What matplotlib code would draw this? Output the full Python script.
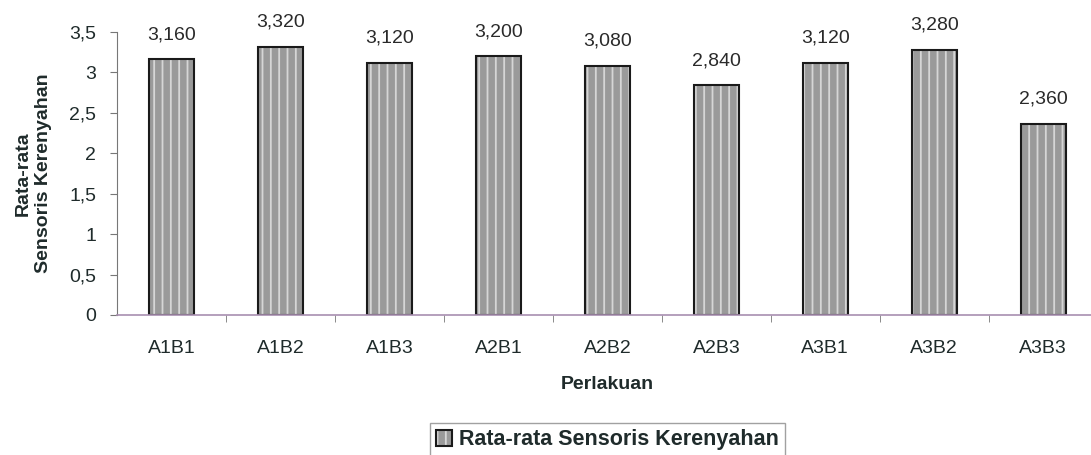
import matplotlib.pyplot as plt

plt.rcParams["font.family"] = "Liberation Sans"
plt.rcParams["hatch.linewidth"] = 1.3

# === Data ===
perlakuan = ["A1B1", "A1B2", "A1B3", "A2B1", "A2B2", "A2B3", "A3B1", "A3B2", "A3B3"]
kerenyahan = [3.160, 3.320, 3.120, 3.200, 3.080, 2.840, 3.120, 3.280, 2.360]
yticks = [0, 0.5, 1, 1.5, 2, 2.5, 3, 3.5]

TXT = "#1f2b2b"

fig = plt.figure(figsize=(10.91, 4.55), dpi=100)
ax = fig.add_axes([0.1072, 0.3077, 0.899, 0.622])

# textured fill (light streaks), then dark outline on top
fill = ax.bar(perlakuan, kerenyahan, width=0.41, color="#9a9a9a",
              edgecolor="#d6d6d6", linewidth=0, hatch="||")
outline = ax.bar(perlakuan, kerenyahan, width=0.41, fill=False,
                 edgecolor="#1a1a1a", linewidth=1.5)

for b, v in zip(outline, kerenyahan):
    ax.text(b.get_x() + b.get_width() / 2, v + 0.2, f"{v:.3f}".replace(".", ","),
            ha="center", va="bottom", fontsize=14, color="#2a2a2a")

ax.set_ylim(0, 3.5)
ax.set_xlim(-0.5, len(perlakuan) - 0.5)
ax.set_yticks(yticks)
ax.set_yticklabels([str(t).replace(".", ",").replace(",0", "") for t in yticks],
                   fontsize=14, color=TXT)

# ticks between categories on the x axis
ax.set_xticks(range(len(perlakuan)))
ax.set_xticklabels(perlakuan, fontsize=14, color=TXT)
ax.tick_params(axis="x", which="major", length=0, pad=18)
ax.set_xticks([i + 0.5 for i in range(len(perlakuan) - 1)], minor=True)
ax.tick_params(axis="x", which="minor", length=5, color="#777777")
ax.tick_params(axis="y", length=5, pad=10, color="#777777")

ax.set_xlabel("Perlakuan", fontsize=14, fontweight="bold", color=TXT, va="top")
ax.xaxis.set_label_coords(0.5, -0.215)
ax.set_ylabel("Rata-rata\nSensoris Kerenyahan", fontsize=14, fontweight="bold",
              color=TXT, linespacing=1.25, multialignment="center")
ax.yaxis.set_label_coords(-0.066, 0.5)

ax.spines["top"].set_visible(False)
ax.spines["right"].set_visible(False)
ax.spines["left"].set_color("#777777")
ax.spines["bottom"].set_color("#a88fb0")
ax.spines["bottom"].set_linewidth(1.2)

leg = fig.legend([(fill, outline)], ["Rata-rata Sensoris Kerenyahan"],
                 loc="upper left", bbox_to_anchor=(0.394, 0.0703), frameon=True,
                 fancybox=False, edgecolor="#8a8a8a", prop={"size": 15.5, "weight": "bold"},
                 handlelength=0.75, handleheight=0.75, handletextpad=0.3,
                 borderpad=0.3, borderaxespad=0)
for t in leg.get_texts():
    t.set_color(TXT)

fig.savefig("out.png", dpi=100, facecolor="white")
